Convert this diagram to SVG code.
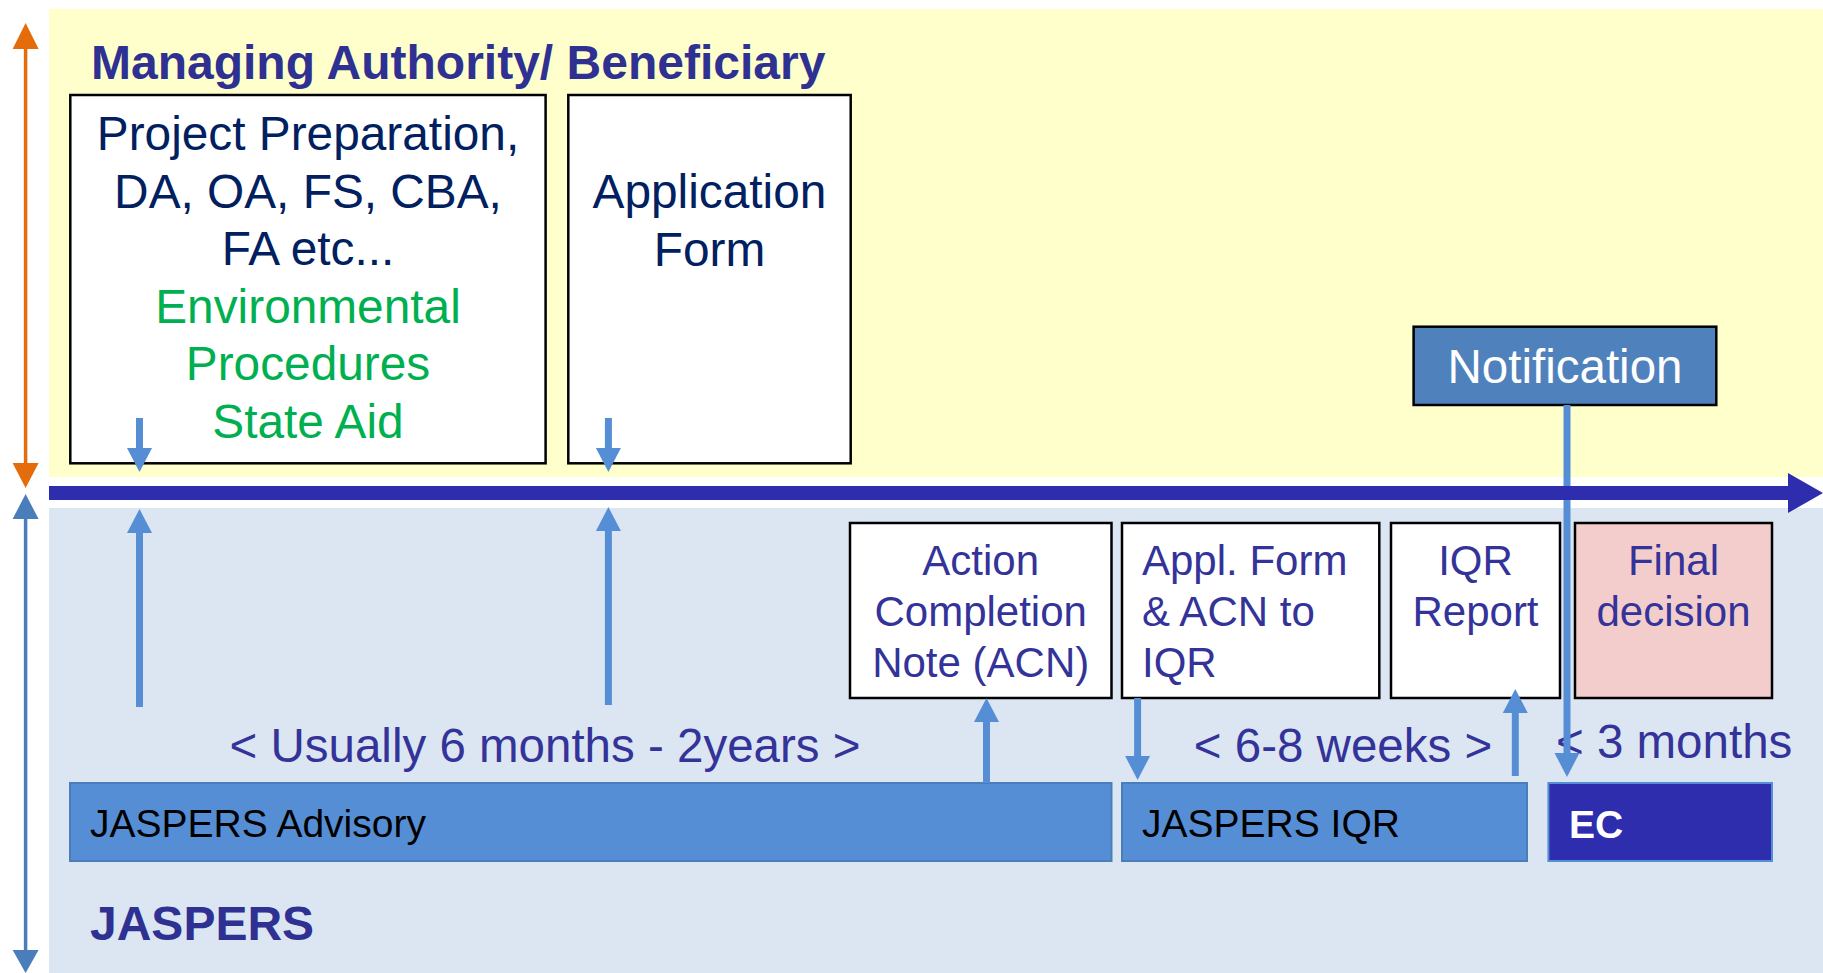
<svg xmlns="http://www.w3.org/2000/svg" width="1823" height="973" viewBox="0 0 1823 973">
<style>
text{font-family:"Liberation Sans",Arial,sans-serif}
.box{fill:#FFFFFF;stroke:#000000;stroke-width:2.5}
.navy{fill:#002060;font-size:47.8px}
.green{fill:#00B050;font-size:47.8px}
.lbl{fill:#333399;font-size:42px}
.dur{fill:#333399;font-size:47.5px}
.ttl{fill:#2E3192;font-weight:bold}
.bar{fill:#558ED5;stroke:#4A7EBB;stroke-width:2}
.bartxt{fill:#000000;font-size:39px}
.conn{stroke:#558ED5;stroke-width:7;fill:none;marker-end:url(#ah)}
.c{text-anchor:middle}
</style>
<defs>
<marker id="ah" markerUnits="userSpaceOnUse" markerWidth="24" markerHeight="25" refX="0" refY="12.5" orient="auto" overflow="visible">
<path d="M0,0 L24,12.5 L0,25 Z" fill="#558ED5"/>
</marker>
</defs>
<rect x="0" y="0" width="1823" height="973" fill="#FFFFFF"/>
<rect x="49" y="9" width="1774" height="468" fill="#FFFFCC"/>
<rect x="49" y="508" width="1774" height="465" fill="#DCE6F2"/>
<g id="side-arrows">
<line x1="25.6" y1="48" x2="25.6" y2="464" stroke="#E46C0A" stroke-width="3.5"/>
<path d="M12.6,49 L25.6,23 L38.6,49 Z" fill="#E46C0A"/>
<path d="M12.6,463 L25.6,488 L38.6,463 Z" fill="#E46C0A"/>
<line x1="25.6" y1="518" x2="25.6" y2="951" stroke="#4A7EBB" stroke-width="3.5"/>
<path d="M12.6,519 L25.6,494 L38.6,519 Z" fill="#4A7EBB"/>
<path d="M12.6,950 L25.6,973 L38.6,950 Z" fill="#4A7EBB"/>
</g>
<g id="title-ma">
<text class="ttl" x="91" y="79" font-size="48">Managing Authority/ Beneficiary</text>
</g>
<g id="title-jaspers">
<text class="ttl" x="90" y="940" font-size="48">JASPERS</text>
</g>
<g id="node-preparation">
<rect class="box" x="70.3" y="95" width="475.3" height="368.3"/>
<text class="navy c" x="308" y="150">Project Preparation,</text>
<text class="navy c" x="308" y="207.5">DA, OA, FS, CBA,</text>
<text class="navy c" x="308" y="265">FA etc...</text>
<text class="green c" x="308" y="322.5">Environmental</text>
<text class="green c" x="308" y="380">Procedures</text>
<text class="green c" x="308" y="437.5">State Aid</text>
</g>
<g id="node-application">
<rect class="box" x="568.3" y="95" width="282.4" height="368.3"/>
<text class="navy c" x="709.5" y="208">Application</text>
<text class="navy c" x="709.5" y="266">Form</text>
</g>
<g id="node-notification">
<rect x="1413.6" y="326.7" width="302.7" height="78.3" fill="#4F81BD" stroke="#000000" stroke-width="2.5"/>
<text class="c" x="1565" y="383" font-size="47.5" fill="#FFFFFF">Notification</text>
</g>
<g id="node-acn">
<rect class="box" x="850" y="523" width="261.5" height="175"/>
<text class="lbl c" x="980.7" y="575">Action</text>
<text class="lbl c" x="980.7" y="626">Completion</text>
<text class="lbl c" x="980.7" y="677">Note (ACN)</text>
</g>
<g id="node-appl-iqr">
<rect class="box" x="1122" y="523" width="257.3" height="175"/>
<text class="lbl" x="1142" y="575">Appl. Form</text>
<text class="lbl" x="1142" y="626">&amp; ACN to</text>
<text class="lbl" x="1142" y="677">IQR</text>
</g>
<g id="node-iqr-report">
<rect class="box" x="1391" y="523" width="169" height="175"/>
<text class="lbl c" x="1475.5" y="575">IQR</text>
<text class="lbl c" x="1475.5" y="626">Report</text>
</g>
<g id="node-final">
<rect x="1575" y="523" width="197" height="175" fill="#F2CDCC" stroke="#000000" stroke-width="2.5"/>
<text class="lbl c" x="1673.5" y="575">Final</text>
<text class="lbl c" x="1673.5" y="626">decision</text>
</g>
<g id="durations">
<text class="dur c" x="545" y="762">&lt; Usually 6 months - 2years &gt;</text>
<text class="dur c" x="1343" y="762">&lt; 6-8 weeks &gt;</text>
<text class="dur" x="1556" y="758">&lt; 3 months</text>
</g>
<g id="node-advisory">
<rect class="bar" x="70" y="783" width="1041.5" height="78"/>
<text class="bartxt" x="90" y="837">JASPERS Advisory</text>
</g>
<g id="node-jaspers-iqr">
<rect class="bar" x="1122" y="783" width="405" height="78"/>
<text class="bartxt" x="1142" y="837">JASPERS IQR</text>
</g>
<g id="node-ec">
<rect x="1548.4" y="783" width="223.6" height="78" fill="#2D2DAE" stroke="#558ED5" stroke-width="2"/>
<text x="1569" y="838" font-size="39" font-weight="bold" fill="#FFFFFF">EC</text>
</g>
<g id="connectors">
<line class="conn" x1="139.5" y1="418" x2="139.5" y2="448"/>
<line class="conn" x1="608.4" y1="418" x2="608.4" y2="448"/>
<line class="conn" x1="139.5" y1="707" x2="139.5" y2="533"/>
<line class="conn" x1="608.4" y1="705" x2="608.4" y2="531"/>
<line class="conn" x1="986.5" y1="783" x2="986.5" y2="722"/>
<line class="conn" x1="1137.6" y1="698" x2="1137.6" y2="756"/>
<line class="conn" x1="1515.3" y1="776" x2="1515.3" y2="713"/>
<line class="conn" x1="1567" y1="405" x2="1567" y2="753"/>
</g>
<g id="timeline">
<rect x="49" y="486" width="1740" height="14" fill="#2D2DAE"/>
<path d="M1788,473 L1823,493 L1788,513 Z" fill="#2D2DAE"/>
</g>
</svg>
